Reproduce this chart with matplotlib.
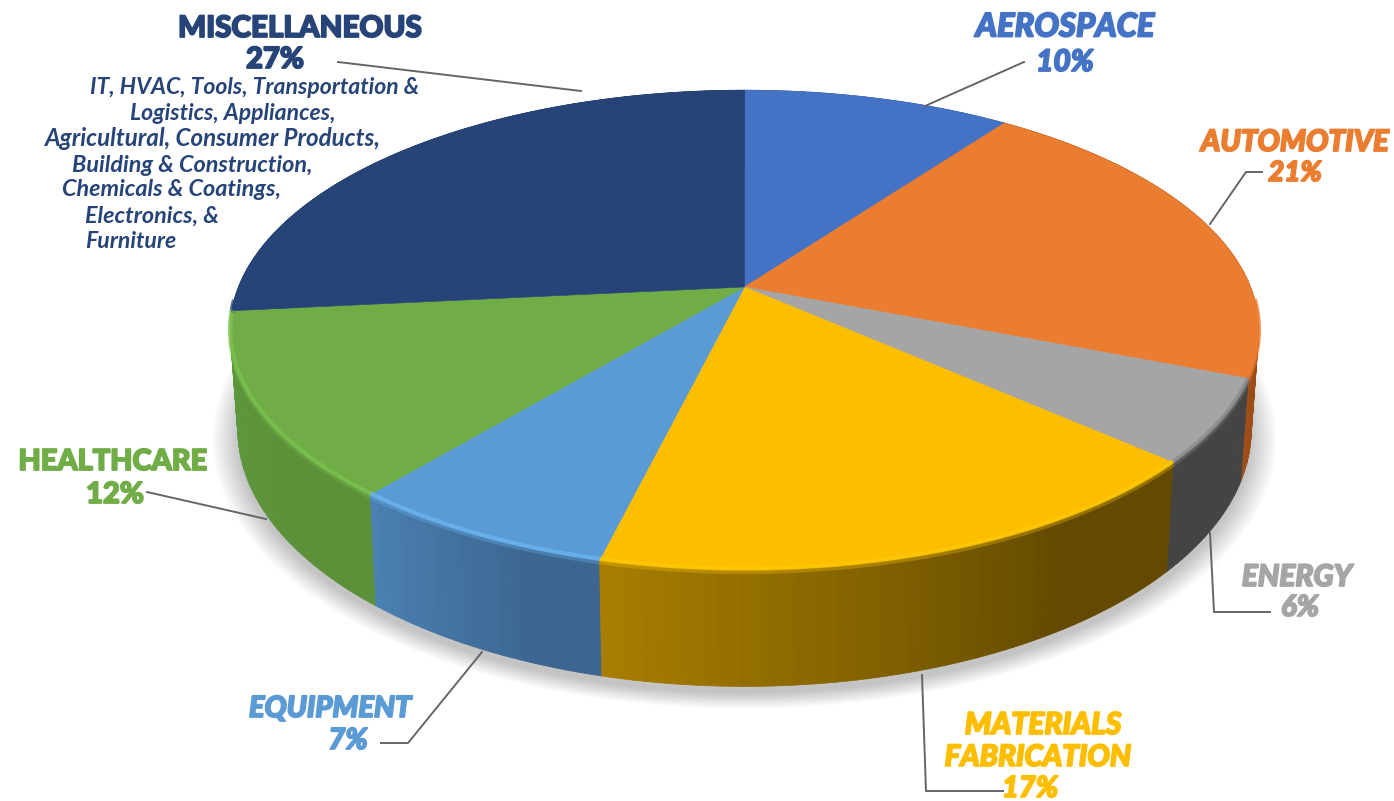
import numpy as np
import matplotlib
matplotlib.use('Agg')
import matplotlib.pyplot as plt
import matplotlib.patheffects as pe
from matplotlib.collections import PolyCollection
from matplotlib.colors import to_rgb

# Data
names = ['Aerospace', 'Automotive', 'Energy', 'Materials Fabrication', 'Equipment', 'Healthcare', 'Miscellaneous']
values = [10, 21, 5.6, 17.2, 7.2, 12.4, 26.6]
details = ['IT, HVAC, Tools, Transportation &', 'Logistics, Appliances,', 'Agricultural, Consumer Products,',
           'Building & Construction,', 'Chemicals & Coatings,', 'Electronics, &', 'Furniture']

# Chart config
top_colors = ['#4472C4', '#EB7D31', '#A5A5A5', '#FDBE00', '#5B9BD5', '#70AD47', '#264478']
wall_from = ['#2F5597', '#7A3A10', '#444444', '#634A00', '#3C6690', '#5C9039', '#1C3358']
wall_to = ['#2F5597', '#A04E18', '#444444', '#A87E00', '#4A80B2', '#5E9A3E', '#1C3358']
rim_colors = ['#4472C4', '#ED7D31', '#8A8A8A', '#FFC808', '#6DB8F5', '#7CC44F', '#264478']
line_color = '#62666B'
font = 'Lato'

cx, cy = 744.5, 287
R, b, k = 506, 232, 0.179
depth, sx, sy = 97, 0.985, 1.07


def top_xy(t):
    x, y = np.sin(t), np.cos(t)
    den = 1 + k * y
    return cx + R * x / den, cy - b * y / den


def bottom_xy(t):
    x, y = np.sin(t), np.cos(t)
    den = 1 + k * y
    return cx + sx * R * x / den, cy + depth - sy * b * y / den


def label(x, y, txt, color, size, italic=True):
    ax.text(x, y + 2, txt, color=color, fontsize=size, family=font, weight='black',
            style='italic' if italic else 'normal', ha='center', va='center', zorder=6,
            path_effects=[pe.withStroke(linewidth=1.3, foreground=color)])


fig = plt.figure(figsize=(13.94, 8.01), dpi=100)
ax = fig.add_axes([0, 0, 1, 1])
ax.set_xlim(0, 1394)
ax.set_ylim(801, 0)
ax.axis('off')

# Soft shadow under the pie
t_all = np.linspace(0, 2 * np.pi, 361)
bx, by = bottom_xy(t_all)
for g in np.linspace(1.05, 1.0, 12):
    ax.fill(cx + (bx - cx) * g, cy + depth + (by - cy - depth) * g + 7, color='#000000', alpha=0.018, lw=0, zorder=1)

edges = np.radians(np.concatenate([[0], np.cumsum(values)]) * 3.6)

# Side wall, narrow strips so each slice can carry its gradient
quads, cols, depths = [], [], []
for i in range(len(values)):
    c0, c1 = np.array(to_rgb(wall_from[i])), np.array(to_rgb(wall_to[i]))
    n = max(int(np.degrees(edges[i + 1] - edges[i])), 2)
    ts = np.linspace(edges[i], edges[i + 1], n + 1)
    for j in range(n):
        # stays dark for the first part of the slice, then lightens
        f = max(j / (n - 1) - 0.25, 0) / 0.75
        col = c0 + (c1 - c0) * f
        x0, y0 = top_xy(ts[j])
        x1, y1 = top_xy(ts[j + 1])
        x2, y2 = bottom_xy(ts[j + 1])
        x3, y3 = bottom_xy(ts[j])
        quads.append([(x0, y0), (x1, y1), (x2, y2), (x3, y3)])
        cols.append(col)
        depths.append(np.cos(ts[j]))
order = np.argsort(depths)[::-1]
wall = PolyCollection([quads[o] for o in order], facecolors=[cols[o] for o in order],
                      edgecolors=[cols[o] for o in order], linewidths=0.6, zorder=2)
ax.add_collection(wall)

# Top of the pie
for i in range(len(values)):
    ts = np.linspace(edges[i], edges[i + 1], 120)
    xs, ys = top_xy(ts)
    ax.fill(np.r_[cx, xs], np.r_[cy, ys], color=top_colors[i], lw=0.4, zorder=3)
    # bevel along the front rim, bright line with a soft step into the wall
    front = ts[np.cos(ts) < -0.05]
    if len(front) > 1:
        xr, yr = top_xy(front)
        ax.plot(xr, yr + 2, color=rim_colors[i], lw=3.5, alpha=0.3, solid_capstyle='butt', zorder=4)
        ax.plot(xr, yr - 1, color=rim_colors[i], lw=3, alpha=0.7, solid_capstyle='butt', zorder=4)

# Labels
label(1065, 25, names[0].upper(), top_colors[0], 23.5)
label(1065, 60, f'{values[0]:.0f}%', top_colors[0], 21.5)
label(1295, 140, names[1].upper(), top_colors[1], 21.3)
label(1295, 171, f'{values[1]:.0f}%', top_colors[1], 20)
label(1297, 575, names[2].upper(), top_colors[2], 21.5)
label(1300, 606, f'{values[2]:.0f}%', top_colors[2], 21)
label(1043, 723, 'MATERIALS', top_colors[3], 21.7)
label(1038, 755, 'FABRICATION', top_colors[3], 21.3)
label(1030, 787, f'{values[3]:.0f}%', top_colors[3], 21)
label(330, 707, names[4].upper(), top_colors[4], 21)
label(348, 739, f'{values[4]:.0f}%', top_colors[4], 21)
label(113, 460, names[5].upper(), top_colors[5], 20.8, italic=False)
label(115, 493, f'{values[5]:.0f}%', top_colors[5], 21, italic=False)
label(300, 26, names[6].upper(), top_colors[6], 21.3, italic=False)
label(275, 58, f'{values[6]:.0f}%', top_colors[6], 21, italic=False)

detail_x = [255, 233, 213, 192, 172, 152, 131]
detail_y = [88, 114, 139, 165, 190, 216, 241]
detail_sizes = [16.6, 16.6, 17.4, 16.8, 16.8, 16.8, 16.6]
for txt, x, y, s in zip(details, detail_x, detail_y, detail_sizes):
    ax.text(x, y, txt, color=top_colors[6], fontsize=s, family=font, weight='bold', style='italic', ha='center', va='center')

# Leader lines
leaders = [([338, 581], [62, 91]), ([1024, 925], [62, 106]), ([1262, 1246, 1210], [172, 172, 224]),
           ([1210, 1214, 1270], [533, 612, 612]), ([922, 926, 1003], [675, 791, 791]),
           ([482, 408, 381], [652, 743, 743]), ([147, 266], [492, 519])]
for lx, ly in leaders:
    ax.plot(lx, ly, color=line_color, lw=1.4, zorder=5)

plt.savefig('out.png', dpi=100)
